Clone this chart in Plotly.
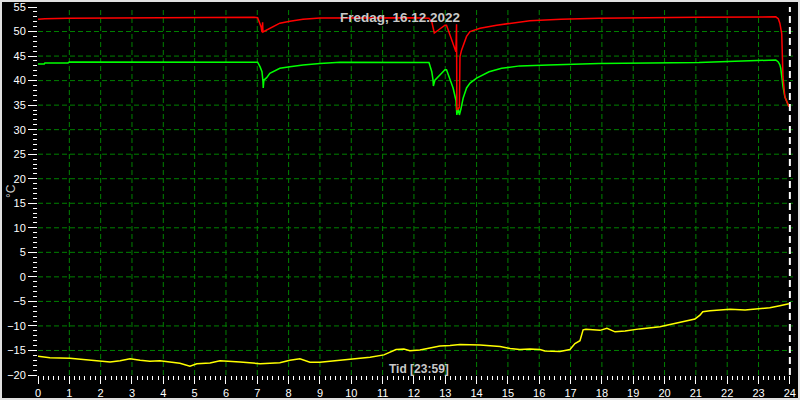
import plotly.graph_objects as go

# ---------------- data (hours of day, °C) ----------------
red_h = [0, 0.22, 0.96, 3.0, 5.0, 6.9, 7.01, 7.12, 7.15, 7.17, 7.18, 7.30, 7.40, 7.72, 8.04, 8.46, 9.0,
         10.0, 12.0, 12.48, 12.57, 12.65, 12.99, 13.04, 13.34, 13.36, 13.37, 13.45, 13.47, 13.52, 13.68,
         13.79, 14.11, 14.64, 15.2, 15.7, 16.7, 17.9, 21.0, 23.55, 23.63, 23.68, 23.74, 23.76, 23.78,
         23.84, 23.95, 23.97]
red_v = [52.5, 52.6, 52.7, 52.8, 52.85, 52.9, 52.8, 51.0, 49.9, 51.9, 49.9, 50.3, 50.8, 51.7, 52.1, 52.5, 52.75,
         52.8, 52.8, 52.7, 52.0, 49.7, 51.3, 51.3, 45.9, 51.5, 34.0, 34.5, 44.9, 46.2, 49.0,
         50.0, 50.65, 51.3, 51.8, 52.2, 52.5, 52.7, 52.9, 53.0, 52.6, 51.7, 49.6, 45.0, 40.8,
         36.7, 34.8, 34.7]

green_h = [0, 0.2, 0.22, 0.96, 1.0, 7.01, 7.09, 7.15, 7.18, 7.19, 7.21, 7.30, 7.40, 7.72, 8.04, 8.46, 9.0,
           9.64, 12.48, 12.57, 12.61, 12.62, 12.67, 12.99, 13.04, 13.15, 13.25, 13.34, 13.37, 13.41, 13.45,
           13.50, 13.57, 13.68, 13.79, 14.0, 14.11, 14.4, 14.8, 15.38, 16.3, 17.9, 21.1, 22.4, 23.55,
           23.63, 23.68, 23.71, 23.74, 23.78, 23.84, 23.94, 23.97]
green_v = [43.4, 43.4, 43.6, 43.6, 43.8, 43.75, 42.8, 41.8, 39.9, 38.5, 40.1, 40.6, 41.5, 42.5, 42.8, 43.2, 43.5,
           43.75, 43.7, 41.8, 40.1, 38.9, 40.1, 42.2, 42.2, 40.1, 38.5, 36.0, 33.0, 34.5, 33.0,
           34.2, 36.4, 38.5, 39.5, 40.5, 40.9, 41.8, 42.5, 43.0, 43.2, 43.5, 43.7, 44.0, 44.2,
           43.8, 43.2, 42.5, 40.5, 38.8, 36.7, 35.4, 34.7]

yellow_h = [0, 0.38, 1.02, 1.34, 1.66, 1.98, 2.30, 2.62, 2.94, 3.26, 3.57, 3.89, 4.21, 4.53, 4.85, 5.07,
            5.49, 5.81, 6.45, 7.09, 7.72, 8.04, 8.36, 8.68, 9.0, 9.32, 9.96, 10.60, 11.04, 11.24, 11.43,
            11.68, 11.87, 12.19, 12.51, 12.83, 13.15, 13.47, 14.11, 14.43, 14.75, 15.07, 15.38, 15.70,
            16.02, 16.18, 16.66, 16.98, 17.14, 17.30, 17.40, 17.49, 17.94, 18.16, 18.42, 18.74, 19.21,
            19.85, 20.17, 20.49, 20.97, 21.13, 21.22, 21.45, 21.77, 22.09, 22.57, 23.05, 23.36, 23.68, 23.97]
yellow_v = [-16.2, -16.5, -16.6, -16.8, -17.0, -17.3, -17.35, -17.1, -16.7, -17.0, -17.2, -17.1, -17.3, -17.6,
            -18.2, -17.7, -17.55, -17.1, -17.35, -17.7, -17.5, -17.0, -16.7, -17.4, -17.4, -17.2, -16.7,
            -16.4, -15.9, -15.3, -14.8, -14.7, -15.05, -14.9, -14.55, -14.1, -14.0, -13.8, -13.9, -14.1,
            -14.2, -14.6, -14.8, -14.7, -14.8, -15.1, -15.2, -14.8, -13.6, -13.0, -10.8, -10.7, -10.9,
            -10.5, -11.2, -11.05, -10.6, -10.15, -9.7, -9.15, -8.6, -7.8, -7.1, -6.9, -6.75, -6.6, -6.75,
            -6.4, -6.3, -5.9, -5.5]

x_ticks = list(range(0, 25))
y_ticks = list(range(-20, 56, 5))
x_grid = list(range(1, 24))
y_grid = list(range(-15, 55, 5))
now_h = 24
title_text = "Fredag, 16.12.2022"
x_title = "Tid [23:59]"
y_title = "°C"

# ---------------- figure ----------------
fig = go.Figure()
for xs, ys, col in [(yellow_h, yellow_v, "#ffff00"), (green_h, green_v, "#00ff00"), (red_h, red_v, "#ff0000")]:
    fig.add_trace(go.Scatter(x=xs, y=ys, mode="lines", line=dict(color=col, width=1.5), hoverinfo="skip"))

L, R, T, B = 38, 7, 7, 25
W, H = 800, 400
pw, ph = W - L - R, H - T - B

shapes = []
grid_line = dict(color="#008000", width=1, dash="5px,3px")
for g in x_grid:
    shapes.append(dict(type="line", xref="x", yref="paper", x0=g, x1=g, y0=0, y1=1, line=grid_line, layer="below"))
for g in y_grid:
    shapes.append(dict(type="line", xref="paper", yref="y", x0=0, x1=1, y0=g, y1=g, line=grid_line, layer="below"))
shapes.append(dict(type="line", xref="x", yref="paper", x0=now_h, x1=now_h, y0=0, y1=1,
                   line=dict(color="#ffffff", width=2, dash="7px,4px"), layer="above"))
shapes.append(dict(type="rect", xref="paper", yref="paper",
                   x0=(1 - L) / pw, x1=(W - 1 - L) / pw, y0=-(B - 1) / ph, y1=(H - B - 1) / ph,
                   line=dict(color="#e0e0e0", width=2), layer="above"))

font_family = "Liberation Sans, Arial, sans-serif"
fig.update_layout(
    template="none",
    width=W, height=H,
    margin=dict(l=L, r=R, t=T, b=B, pad=0, autoexpand=False),
    paper_bgcolor="#000000", plot_bgcolor="#000000",
    showlegend=False,
    shapes=shapes,
    font=dict(family=font_family, color="#ffffff", size=11),
    title=dict(text="<b>" + title_text + "</b>", x=0.5, xref="container", xanchor="center",
               y=1 - 17.5 / H, yref="container", yanchor="middle",
               font=dict(family=font_family, size=13.5, color="#c8c8c8")),
    annotations=[
        dict(text="<b>" + x_title + "</b>", xref="paper", yref="paper",
             x=(419 - L) / pw, y=(H - B - 368.5) / ph, xanchor="center", yanchor="middle",
             showarrow=False, font=dict(family=font_family, size=12, color="#c8c8c8")),
        dict(text=y_title, xref="paper", yref="paper", x=(11 - L) / pw, y=0.5, textangle=-90,
             xanchor="center", yanchor="middle", showarrow=False,
             font=dict(family=font_family, size=12, color="#c8c8c8")),
    ],
)
fig.update_xaxes(range=[0, 24.1], tickvals=x_ticks, ticks="outside", ticklen=8, tickwidth=1,
                 tickcolor="#ffffff", showgrid=False, zeroline=False, showline=False, automargin=False,
                 tickfont=dict(size=11, color="#ffffff"),
                 minor=dict(dtick=1 / 6, tick0=0, ticks="outside", ticklen=4, tickcolor="#ffffff", showgrid=False))
fig.update_yaxes(range=[-20, 55], tickvals=y_ticks, ticks="outside", ticklen=9, tickwidth=1,
                 tickcolor="#ffffff", showgrid=False, zeroline=False, showline=False, automargin=False,
                 tickfont=dict(size=11, color="#ffffff"),
                 minor=dict(dtick=1, tick0=0, ticks="outside", ticklen=4, tickcolor="#ffffff", showgrid=False))

fig.write_html("out.html", config={"displayModeBar": False, "staticPlot": True},
               post_script="document.body.style.margin='0';document.body.style.overflow='hidden';")
